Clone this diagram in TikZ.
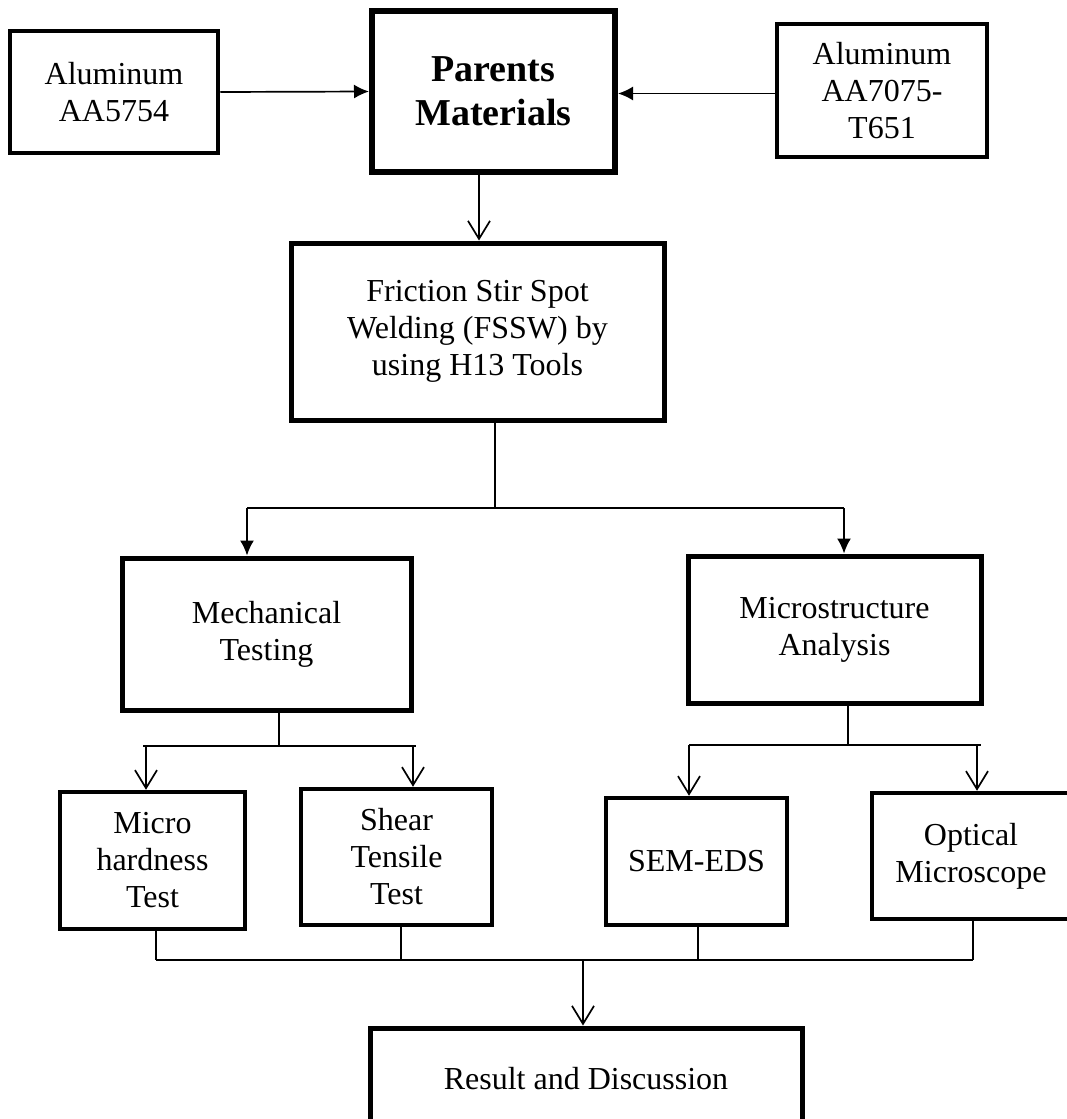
\documentclass[tikz,border=0pt]{standalone}
\usepackage{fontspec}
\setmainfont{Liberation Serif}
\usetikzlibrary{arrows.meta, positioning}

\begin{document}
\begin{tikzpicture}[
    x=1pt, y=-1pt,
    font=\fontsize{32}{37}\selectfont,
    box/.style={draw, line width=4.5pt, align=center, inner sep=0pt},
    link/.style={line width=1.7pt},
    solid arrow/.style={link, -{Latex[length=15pt,width=14pt]}},
    open arrow/.style={link, -{Straight Barb[length=18pt,width=22pt]}}
]
\useasboundingbox (0,0) rectangle (1066,1119);

% inputs
\node[box, minimum width=208, minimum height=122] (al5754) at (114,92) {Aluminum\\AA5754};
\node[box, line width=6pt, minimum width=243, minimum height=161,
      font=\fontsize{38}{44}\selectfont\bfseries] (parents) at (493.5,91.5) {Parents\\Materials};
\node[box, minimum width=210, minimum height=133] (al7075) at (882,90.5) {Aluminum\\AA7075-\\T651};

% process
\node[box, line width=5pt, minimum width=373, minimum height=177] (fssw) at (477.5,331.5)
    {Friction Stir Spot\\Welding (FSSW) by\\using H13 Tools};

% analysis
\node[box, line width=5pt, minimum width=289, minimum height=152] (mech) at (266.5,634) {Mechanical\\Testing};
\node[box, line width=5pt, minimum width=293, minimum height=147] (micro) at (834.5,629.5) {Microstructure\\Analysis};

% tests
\node[box, minimum width=185, minimum height=137] (hard) at (152.5,860.5) {Micro\\hardness\\Test};
\node[box, minimum width=191, minimum height=136] (shear) at (396.5,857) {Shear\\Tensile\\Test};
\node[box, minimum width=181, minimum height=127] (sem) at (696.5,861.5) {SEM-EDS};
\node[box, minimum width=198, minimum height=126] (optic) at (971,856) {Optical\\Microscope};

% output
\node[box, line width=5pt, minimum width=432, minimum height=102] (result) at (586,1079) {Result and Discussion};

% connectors
\draw[solid arrow] (al5754.east) -- (parents.west);
\draw[solid arrow] ([yshift=-3pt]al7075.west) -- ([yshift=-3pt]al7075.west -| parents.east);
\draw[open arrow] (parents.south -| 479,0) -- (fssw.north -| 479,0);

\coordinate (split) at (495,508);
\coordinate (mechtop) at (247,508);
\coordinate (microtop) at (844,508);
\draw[link] (fssw.south -| split) -- (split);
\draw[link, line width=2pt] (mechtop) -- (microtop);
\draw[solid arrow] (mechtop) -- (mechtop |- mech.north);
\draw[solid arrow] (microtop) -- (microtop |- micro.north);

\coordinate (mechsplit) at (279,746);
\coordinate (hardtop) at (146,746);
\coordinate (sheartop) at (413,746);
\draw[link] (mech.south -| mechsplit) -- (mechsplit);
\draw[link, line width=2pt] ([xshift=-3pt]hardtop) -- ([xshift=3pt]sheartop);
\draw[open arrow] (hardtop) -- (hardtop |- hard.north);
\draw[open arrow] (sheartop) -- (sheartop |- shear.north);

\coordinate (microsplit) at (848,745);
\coordinate (semtop) at (689,745);
\coordinate (optictop) at (977,745);
\draw[link] (micro.south -| microsplit) -- (microsplit);
\draw[link, line width=2pt] (semtop) -- ([xshift=4pt]optictop);
\draw[open arrow] (semtop) -- (semtop |- sem.north);
\draw[open arrow] (optictop) -- (optictop |- optic.north);

\coordinate (hardbot) at (156,960);
\coordinate (shearbot) at (401,960);
\coordinate (sembot) at (698,960);
\coordinate (opticbot) at (973,960);
\coordinate (join) at (583,960);
\draw[link] (hard.south -| hardbot) -- (hardbot);
\draw[link] (shear.south -| shearbot) -- (shearbot);
\draw[link] (sem.south -| sembot) -- (sembot);
\draw[link] (optic.south -| opticbot) -- (opticbot);
\draw[link, line width=2pt] (hardbot) -- (opticbot);
\draw[open arrow] (join) -- (join |- result.north);

\end{tikzpicture}
\end{document}
